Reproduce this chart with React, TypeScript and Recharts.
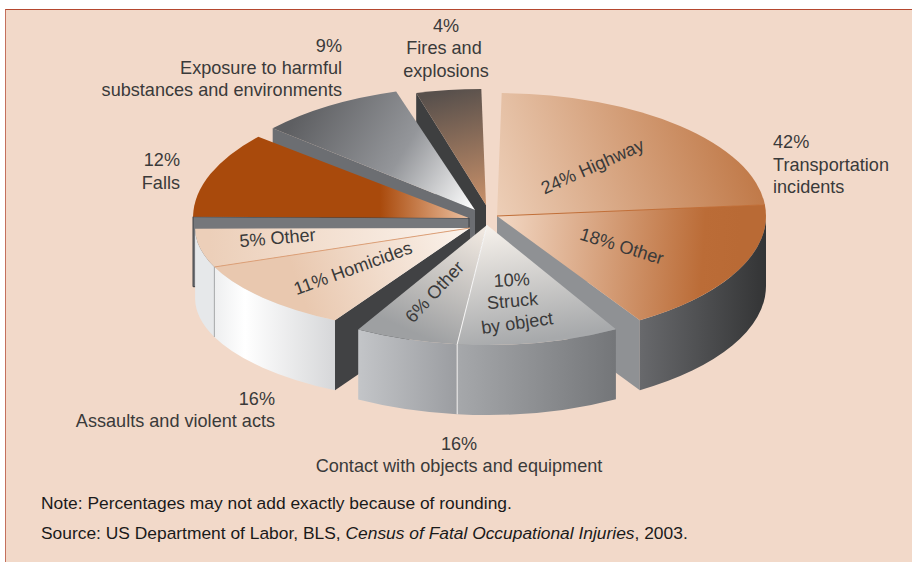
import React from "react";
import { PieChart, Pie } from "recharts";

const sliceNames = [
  "Highway",
  "Transportation other",
  "Struck by object",
  "Contact other",
  "Homicides",
  "Assaults other",
  "Falls",
  "Exposure",
  "Fires and explosions",
];
const sliceValues = [24, 18, 10, 6, 11, 5, 12, 9, 4];

// back to front, so the nearer pieces cover the walls behind them
const paintOrder = [8, 7, 6, 0, 1, 5, 4, 3, 2];

const WIDTH = 912;
const HEIGHT = 562;
const CX = 487;
const CY = 215;
const RADIUS = 269;
const DEPTH = 70;

type Look = {
  dx: number;
  dy: number;
  sx: number;
  sy: number;
  top: string;
  wall: string;
  side: string;
  sideStroke?: string;
  startTrim?: number;
  endTrim?: number;
  seam?: { edge: "start" | "end"; top: string; wall: string };
};

// same order as sliceNames
const looks: Look[] = [
  { dx: 10, dy: 1, sx: 1, sy: 0.457, top: "hwTop", wall: "#444", side: "#8f9194", startTrim: 3.5 },
  { dx: 10, dy: 1, sx: 1, sy: 0.457, top: "trTop", wall: "url(#trWall)", side: "#8f9194", endTrim: 2.3, seam: { edge: "start", top: "#c26f38", wall: "#444" } },
  { dx: 0, dy: 10, sx: 0.965, sy: 0.446, top: "stTop", wall: "url(#stWall)", side: "#999", seam: { edge: "end", top: "#f8f8f8", wall: "#f0f0f0" } },
  { dx: 0, dy: 10, sx: 0.975, sy: 0.446, top: "coTop", wall: "url(#coWall)", side: "#999", endTrim: -1 },
  { dx: -17, dy: 13, sx: 1.022, sy: 0.394, top: "hoTop", wall: "url(#hoWall)", side: "#414244", startTrim: 1, seam: { edge: "end", top: "#dd9f76", wall: "#a5a7a9" } },
  { dx: -17, dy: 13, sx: 1.022, sy: 0.394, top: "asTop", wall: "#e6e8ea", side: "#e6e8ea", endTrim: -3 },
  { dx: -18, dy: 3, sx: 1.026, sy: 0.468, top: "faTop", wall: "#6e7074", side: "#75777b", sideStroke: "#3d3f42", startTrim: 4 },
  { dx: -12, dy: -5, sx: 1, sy: 0.461, top: "exTop", wall: "#6c6e72", side: "#6c6e72", startTrim: 1 },
  { dx: -1, dy: -10, sx: 1, sy: 0.431, top: "fiTop", wall: "#3e3f40", side: "#3e3f40", startTrim: 2, endTrim: -1.5 },
];

type Grad = { id: string; from: number[]; to: number[]; stops: [number, string][] };

const gradients: Grad[] = [
  { id: "hwTop", from: [500, 230], to: [765, 140], stops: [[0, "#edcfb8"], [1, "#bd7340"]] },
  { id: "trTop", from: [500, 225], to: [740, 240], stops: [[0, "#f2d7c3"], [0.85, "#bb6c37"], [1, "#b96a35"]] },
  { id: "trWall", from: [640, 0], to: [766, 0], stops: [[0, "#68696c"], [1, "#333435"]] },
  { id: "stTop", from: [490, 225], to: [510, 345], stops: [[0, "#f7f2ec"], [1, "#a7a9ab"]] },
  { id: "stWall", from: [457, 0], to: [615, 0], stops: [[0, "#a6a8ab"], [1, "#747679"]] },
  { id: "coTop", from: [480, 230], to: [430, 340], stops: [[0, "#f0e8e0"], [1, "#9ea0a2"]] },
  { id: "coWall", from: [358, 0], to: [457, 0], stops: [[0, "#c3c5c8"], [1, "#9b9da1"]] },
  { id: "hoTop", from: [470, 230], to: [300, 290], stops: [[0, "#fbf4ee"], [1, "#e9c8af"]] },
  { id: "hoWall", from: [215, 0], to: [335, 0], stops: [[0, "#eeeff0"], [0.25, "#ffffff"], [1, "#d6d7d9"]] },
  { id: "asTop", from: [470, 230], to: [210, 240], stops: [[0, "#fbf4ee"], [1, "#eccfb9"]] },
  { id: "faTop", from: [380, 0], to: [468, 0], stops: [[0, "#a94a0c"], [1, "#ecc0a0"]] },
  { id: "exTop", from: [300, 110], to: [470, 215], stops: [[0, "#5e5f62"], [0.55, "#94969a"], [1, "#ffffff"]] },
  { id: "fiTop", from: [450, 90], to: [480, 205], stops: [[0, "#58504c"], [1, "#c89069"]] },
];

type Note = { text: string; x: number; y: number; anchor?: "start" | "middle" | "end"; rotate?: number };

const labels: Note[] = [
  { text: "42%", x: 773, y: 148 },
  { text: "Transportation", x: 773, y: 171 },
  { text: "incidents", x: 773, y: 193 },
  { text: "12%", x: 180, y: 166, anchor: "end" },
  { text: "Falls", x: 180, y: 189, anchor: "end" },
  { text: "9%", x: 342, y: 52, anchor: "end" },
  { text: "Exposure to harmful", x: 342, y: 74, anchor: "end" },
  { text: "substances and environments", x: 342, y: 96, anchor: "end" },
  { text: "4%", x: 446, y: 32, anchor: "middle" },
  { text: "Fires and", x: 444, y: 54, anchor: "middle" },
  { text: "explosions", x: 446, y: 77, anchor: "middle" },
  { text: "16%", x: 275, y: 405, anchor: "end" },
  { text: "Assaults and violent acts", x: 275, y: 427, anchor: "end" },
  { text: "16%", x: 459, y: 450, anchor: "middle" },
  { text: "Contact with objects and equipment", x: 459, y: 472, anchor: "middle" },
  { text: "24% Highway", x: 595, y: 172, anchor: "middle", rotate: -24 },
  { text: "18% Other", x: 620, y: 252, anchor: "middle", rotate: 17 },
  { text: "10%", x: 512, y: 286, anchor: "middle", rotate: -3 },
  { text: "Struck", x: 513, y: 307, anchor: "middle", rotate: -5 },
  { text: "by object", x: 518, y: 329, anchor: "middle", rotate: -8 },
  { text: "6% Other", x: 439, y: 296, anchor: "middle", rotate: -47 },
  { text: "11% Homicides", x: 355, y: 274, anchor: "middle", rotate: -20 },
  { text: "5% Other", x: 278, y: 244, anchor: "middle", rotate: -5 },
];

const data = sliceNames.map((name, i) => ({ name, value: sliceValues[i] }));

const rad = (deg: number) => (deg * Math.PI) / 180;

function Slice({ props, index }: { props: any; index: number }) {
  const look = looks[index];
  const apex = { x: props.cx + look.dx, y: props.cy + look.dy };
  const rx = props.outerRadius * look.sx;
  const ry = props.outerRadius * look.sy;
  const at = (deg: number) => ({
    x: apex.x + rx * Math.cos(rad(deg)),
    y: apex.y - ry * Math.sin(rad(deg)),
  });
  const start = props.startAngle - (look.startTrim ?? 0);
  const end = props.endAngle + (look.endTrim ?? 0);
  const a = at(start);
  const b = at(end);

  const radialWall = (deg: number) => {
    const p = at(deg);
    return `M${apex.x},${apex.y} L${p.x},${p.y} L${p.x},${p.y + DEPTH} L${apex.x},${apex.y + DEPTH} Z`;
  };

  // rim wall only exists on the near half of the ellipse, -180..0
  const hi = Math.min(start, 0);
  const lo = Math.max(end, -180);
  let rim = null;
  if (hi > lo) {
    const p = at(hi);
    const q = at(lo);
    rim = `M${p.x},${p.y} A${rx},${ry} 0 0 1 ${q.x},${q.y} L${q.x},${q.y + DEPTH} A${rx},${ry} 0 0 0 ${p.x},${p.y + DEPTH} Z`;
  }

  const seamAngle = look.seam ? (look.seam.edge === "start" ? start : end) : 0;
  const seamPoint = at(seamAngle);

  return (
    <g>
      {Math.cos(rad(start)) < 0 && <path d={radialWall(start)} fill={look.side} stroke={look.sideStroke} />}
      {Math.cos(rad(end)) > 0 && <path d={radialWall(end)} fill={look.side} />}
      {rim && <path d={rim} fill={look.wall} />}
      <path
        d={`M${apex.x},${apex.y} L${a.x},${a.y} A${rx},${ry} 0 0 1 ${b.x},${b.y} Z`}
        fill={`url(#${look.top})`}
      />
      {look.seam && (
        <>
          <line x1={apex.x} y1={apex.y} x2={seamPoint.x} y2={seamPoint.y} stroke={look.seam.top} />
          {seamPoint.y > apex.y && (
            <line x1={seamPoint.x} y1={seamPoint.y} x2={seamPoint.x} y2={seamPoint.y + DEPTH} stroke={look.seam.wall} />
          )}
        </>
      )}
    </g>
  );
}

export default function App() {
  return (
    <div style={{ position: "absolute", left: 0, top: 0, width: WIDTH, height: HEIGHT, background: "#fff", overflow: "hidden" }}>
      <div
        style={{
          position: "absolute",
          left: 5,
          top: 9,
          right: -2,
          bottom: -2,
          background: "#f2d9c9",
          borderTop: "1px solid #b5482f",
          borderLeft: "1px solid #c4705c",
        }}
      />
      <div style={{ position: "absolute", left: 0, top: 0 }}>
        <PieChart width={WIDTH} height={HEIGHT} margin={{ top: 0, right: 0, bottom: 0, left: 0 }}>
          <defs>
            {gradients.map((g) => (
              <linearGradient key={g.id} id={g.id} gradientUnits="userSpaceOnUse" x1={g.from[0]} y1={g.from[1]} x2={g.to[0]} y2={g.to[1]}>
                {g.stops.map(([o, c]) => (
                  <stop key={o} offset={o} stopColor={c} />
                ))}
              </linearGradient>
            ))}
          </defs>
          {paintOrder.map((sliceIndex) => {
            const draw = (p: any) => (p.name === sliceNames[sliceIndex] ? <Slice props={p} index={sliceIndex} /> : <g />);
            return (
              <Pie
                key={sliceIndex}
                data={data}
                dataKey="value"
                nameKey="name"
                cx={CX}
                cy={CY}
                outerRadius={RADIUS}
                startAngle={92.5}
                endAngle={-267.5}
                stroke="none"
                legendType="none"
                isAnimationActive={false}
                shape={draw}
                inactiveShape={draw}
              />
            );
          })}
        </PieChart>
      </div>
      <svg width={WIDTH} height={HEIGHT} style={{ position: "absolute", left: 0, top: 0 }}>
        <g fontFamily="'Liberation Sans', Arial, sans-serif" fontSize={18.1} fill="#3a3a3a">
          {labels.map((l) => (
            <text
              key={l.text + l.x}
              x={l.x}
              y={l.y}
              textAnchor={l.anchor ?? "start"}
              transform={l.rotate ? `rotate(${l.rotate} ${l.x} ${l.y})` : undefined}
            >
              {l.text}
            </text>
          ))}
        </g>
        <g fontFamily="'Liberation Sans', Arial, sans-serif" fontSize={17.4} fill="#1a1a1a">
          <text x={41} y={509}>Note: Percentages may not add exactly because of rounding.</text>
          <text x={41} y={539}>
            Source: US Department of Labor, BLS, <tspan fontStyle="italic">Census of Fatal Occupational Injuries</tspan>, 2003.
          </text>
        </g>
      </svg>
    </div>
  );
}
